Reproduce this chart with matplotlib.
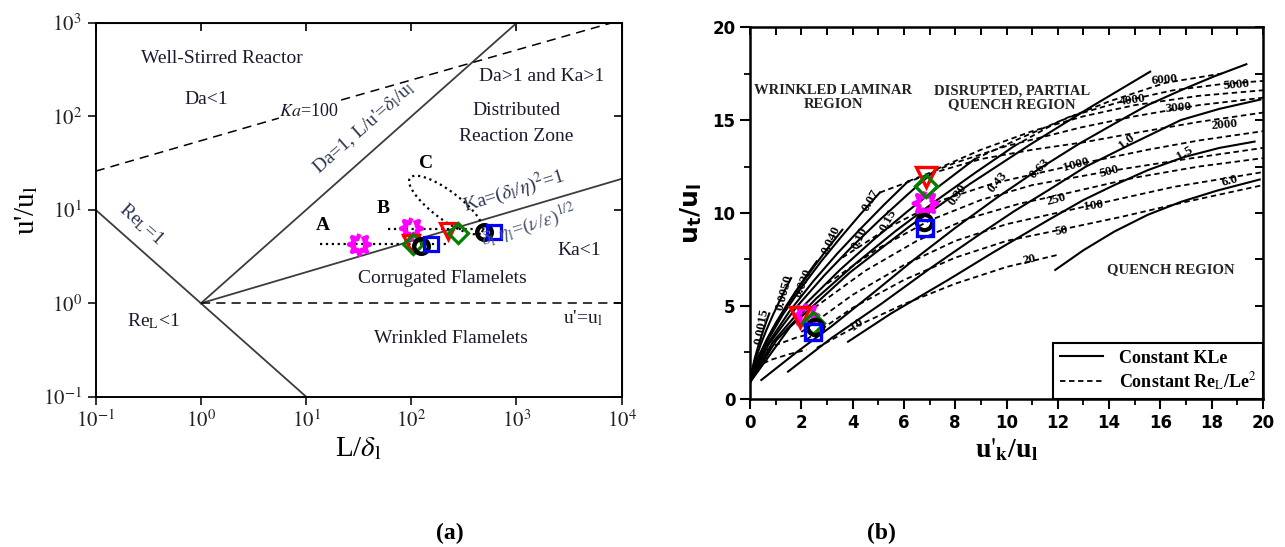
import numpy as np
import matplotlib.pyplot as plt
from matplotlib.ticker import FixedLocator, MultipleLocator
from matplotlib.lines import Line2D

plt.rcParams['font.family'] = ['Liberation Serif', 'DejaVu Serif']
plt.rcParams['mathtext.fontset'] = 'stix'

# ---------------- panel (a): regime diagram ----------------
reL_x, reL_y = [0.1, 10], [10, 0.1]            # Re_L = 1
da_x, da_y = [1, 1000], [1, 1000]              # Da = 1
ka1_x, ka1_y = [1, 1e4], [1, 21.5]             # Ka = 1
ka100a_x, ka100a_y = [0.1, 5.5], [26, 96]      # Ka = 100 (left of label)
ka100b_x, ka100b_y = [21.5, 7900], [150, 1000]  # Ka = 100 (right of label)
ul_x, ul_y = [1, 1e4], [1, 1]                  # u' = u_l

caseA_x, caseA_y = [13.6, 225], [4.3, 4.3]
caseB_x, caseB_y = [60, 600], [6.2, 6.2]

# operating points (L/delta_l, u'/u_l), cases A and B
a_star_x, a_star_y = [32, 100], [4.36, 6.46]
a_tri_x, a_tri_y = [100, 224], [4.4, 6.0]
a_dia_x, a_dia_y = [104, 277], [4.3, 5.7]
a_circ_x, a_circ_y = [123, 490], [4.15, 5.86]
a_sq_x, a_sq_y = [154, 610], [4.3, 5.86]

# ---------------- panel (b): Bradley chart ----------------
# solid: constant K*Le  (u'_k/u_l, u_t/u_l)
kle_x = [
    [0, 0.075, 0.1875, 0.3, 0.4125, 0.525, 0.6375, 0.75],
    [0, 0.16, 0.4, 0.64, 0.88, 1.12, 1.36, 1.6],
    [0, 0.26, 0.65, 1.04, 1.43, 1.82, 2.21, 2.6],
    [0, 0.36, 0.9, 1.44, 1.98, 2.52, 3.06, 3.6],
    [0, 0.506, 1.265, 2.024, 2.783, 3.542, 4.301, 5.06],
    [0, 0.616, 1.54, 2.464, 3.388, 4.312, 5.236, 6.16],
    [0, 0.726, 1.815, 2.904, 3.993, 5.082, 6.171, 7.26],
    [0, 0.876, 2.19, 3.504, 4.818, 6.132, 7.446, 8.76],
    [0, 1.03, 2.575, 4.12, 5.665, 7.21, 8.755, 10.3],
    [0, 1.56, 3.9, 6.24, 8.58, 10.92, 13.26, 15.6],
    [0.44, 1.8, 3.17, 4.8, 6.4, 8.0, 9.6, 11.3, 12.8, 14.2, 15.5, 16.8, 18.1, 19.35],
    [1.48, 3.2, 5.1, 7.0, 9.0, 10.3, 11.6, 13.1, 14.7, 16.8, 18.3, 19.9],
    [3.82, 5.5, 7.72, 9.5, 11.6, 13.0, 14.2, 15.5, 16.9, 18.3, 19.67],
    [11.9, 13.0, 14.2, 15.5, 16.8, 18.2, 19.87],
]
kle_y = [
    [0.9, 1.56, 2.21, 2.76, 3.26, 3.73, 4.17, 4.6],
    [0.9, 1.9, 2.88, 3.72, 4.48, 5.18, 5.86, 6.5],
    [0.9, 2.06, 3.2, 4.17, 5.05, 5.87, 6.65, 7.4],
    [0.9, 2.36, 3.8, 5.02, 6.14, 7.17, 8.16, 9.1],
    [0.9, 2.72, 4.51, 6.03, 7.42, 8.7, 9.93, 11.1],
    [0.9, 2.82, 4.72, 6.33, 7.8, 9.16, 10.46, 11.7],
    [0.9, 2.94, 4.95, 6.66, 8.22, 9.66, 11.03, 12.35],
    [0.9, 3.04, 5.15, 6.94, 8.57, 10.08, 11.52, 12.9],
    [0.9, 3.16, 5.4, 7.29, 9.02, 10.62, 12.14, 13.6],
    [0.9, 3.87, 6.81, 9.3, 11.57, 13.68, 15.68, 17.6],
    [1.02, 2.5, 3.9, 5.7, 7.5, 9.2, 10.8, 12.4, 13.7, 14.8, 15.8, 16.6, 17.35, 18.0],
    [1.47, 3.3, 5.1, 7.0, 8.9, 10.1, 11.2, 12.5, 13.6, 15.0, 15.6, 16.1],
    [3.08, 4.6, 6.4, 7.9, 9.6, 10.7, 11.5, 12.3, 13.0, 13.5, 13.84],
    [6.94, 8.0, 9.0, 9.9, 10.6, 11.2, 11.8],
]
kle_labels = ['0.0015', '0.0050', '0.020', '0.040', '0.07', '0.10', '0.15',
              '0.30', '0.43', '0.63', '1.0', '1.5', '6.0']
kle_lab_x = [0.45, 1.35, 2.07, 3.17, 4.7, 4.28, 5.38, 8.11, 9.67, 11.3, 14.7, 16.95, 18.7]
kle_lab_y = [3.9, 5.7, 6.22, 8.55, 10.66, 8.64, 9.62, 10.97, 11.68, 12.4, 13.84, 13.2, 11.74]
kle_lab_rot = [80, 75, 68, 65, 60, 65, 62, 55, 50, 45, 38, 30, 15]

# dashed: constant Re_L/Le^2
rel_x = [
    [2.6, 4.2, 6.0, 8.0, 10.0, 12.0],
    [2.2, 4.0, 6.0, 8.0, 10.0, 12.1, 14.5, 17.0, 20.0],
    [2.0, 4.0, 6.0, 8.0, 10.0, 13.4, 16.5, 20.0],
    [2.5, 4.5, 6.5, 8.5, 10.5, 12.0, 15.0, 17.5, 20.0],
    [3.0, 5.0, 7.0, 9.0, 11.0, 14.0, 17.0, 20.0],
    [3.6, 5.5, 7.5, 9.5, 12.7, 15.5, 17.5, 20.0],
    [5.06, 7.0, 9.0, 11.0, 13.0, 15.0, 17.5, 20.0],
    [6.16, 8.0, 10.0, 12.9, 15.0, 17.5, 20.0],
    [7.26, 9.0, 11.0, 13.0, 15.0, 17.5, 20.0],
    [8.76, 10.5, 12.5, 14.5, 16.5, 18.5, 20.0],
    [10.3, 12.0, 14.0, 16.2, 18.4],
    [0.2, 0.8, 1.5, 2.2],
    [0.35, 1.0, 1.8, 2.6],
]
rel_y = [
    [2.75, 3.95, 5.1, 6.2, 7.1, 7.75],
    [3.2, 4.9, 6.4, 7.6, 8.5, 9.1, 9.8, 10.6, 11.5],
    [3.6, 5.6, 7.2, 8.5, 9.4, 10.45, 11.4, 12.2],
    [4.9, 6.9, 8.5, 9.7, 10.5, 10.95, 11.9, 12.5, 12.95],
    [6.2, 8.1, 9.6, 10.7, 11.5, 12.25, 12.9, 13.5],
    [7.6, 9.3, 10.7, 11.6, 12.6, 13.4, 13.9, 14.4],
    [11.1, 12.1, 12.9, 13.4, 13.8, 14.3, 14.9, 15.4],
    [11.7, 12.7, 13.6, 14.6, 15.2, 15.8, 16.2],
    [12.35, 13.4, 14.4, 15.2, 15.8, 16.3, 16.6],
    [12.9, 14.0, 15.2, 16.0, 16.6, 16.95, 17.1],
    [13.6, 14.9, 16.0, 17.0, 17.5],
    [1.7, 2.1, 2.4, 2.65],
    [2.4, 2.9, 3.3, 3.6],
]
rel_labels = ['20', '50', '100', '250', '500', '1000', '2000', '3000', '4000', '5000', '6000', '10']
rel_lab_x = [10.9, 12.14, 13.37, 11.94, 14.02, 12.72, 18.5, 16.7, 14.9, 18.96, 16.17, 4.17]
rel_lab_y = [7.48, 9.05, 10.4, 10.7, 12.22, 12.58, 14.72, 15.66, 16.04, 16.88, 17.15, 4.0]
rel_lab_rot = [12, 10, 8, 15, 15, 15, 5, 5, 8, 5, 5, 35]

b_star_x, b_star_y = [2.2, 6.81], [4.52, 10.52]
b_tri_x, b_tri_y = [1.94, 6.87], [4.43, 11.95]
b_dia_x, b_dia_y = [2.46, 6.87], [4.07, 11.45]
b_circ_x, b_circ_y = [2.52, 6.78], [3.89, 9.53]
b_sq_x, b_sq_y = [2.46, 6.81], [3.62, 9.18]

# spiky 8-point star marker
ang8 = np.arange(16) * np.pi / 8 + np.pi / 2
rad8 = np.where(np.arange(16) % 2 == 0, 1.0, 0.55)
star_mark = list(zip(rad8 * np.cos(ang8), rad8 * np.sin(ang8)))

fig = plt.figure(figsize=(12.85, 5.47), dpi=100)
axa = fig.add_axes([0.0745, 0.2748, 0.4093, 0.683])
axb = fig.add_axes([0.5837, 0.2706, 0.3992, 0.680])

# ---- (a)
line_c = '#3c3c3c'
axa.set_xscale('log'); axa.set_yscale('log')
axa.set_xlim(0.1, 1e4); axa.set_ylim(0.1, 1000)
axa.plot(reL_x, reL_y, color=line_c, lw=1.3)
axa.plot(da_x, da_y, color=line_c, lw=1.3)
axa.plot(ka1_x, ka1_y, color=line_c, lw=1.3)
axa.plot(ka100a_x, ka100a_y, 'k--', lw=1.1, dashes=(6, 4))
axa.plot(ka100b_x, ka100b_y, 'k--', lw=1.1, dashes=(6, 4))
axa.plot(ul_x, ul_y, 'k--', lw=1.1, dashes=(6, 4))
axa.plot(caseA_x, caseA_y, 'k:', lw=1.6)
axa.plot(caseB_x, caseB_y, 'k:', lw=1.6)

# C: dotted loop, built in pixel space of the panel
t = np.linspace(0, 2 * np.pi, 200)
cx, cy, sa, sb, ang = 446, 205, 45, 14, np.deg2rad(-37)
ex = cx + sa * np.cos(t) * np.cos(ang) - sb * np.sin(t) * np.sin(ang)
ey = cy - (sa * np.cos(t) * np.sin(ang) + sb * np.sin(t) * np.cos(ang))
axa.plot((ex - 95.7) / 526.0, (396.7 - ey) / 373.7, 'k:', lw=1.6,
         transform=axa.transAxes)

mk = dict(ls='none', mfc='none')
axa.plot(a_star_x, a_star_y, marker=star_mark, ms=15, mec='#ff00ff', mew=3.2, **mk)
axa.plot(a_tri_x, a_tri_y, marker='v', ms=12, mec='red', mew=2.3, **mk)
axa.plot(a_dia_x, a_dia_y, marker='D', ms=10, mec='green', mew=2.3, **mk)
axa.plot(a_circ_x, a_circ_y, marker='o', ms=10.5, mec='black', mew=3.2, **mk)
axa.plot(a_sq_x, a_sq_y, marker='s', ms=10, mec='blue', mew=2.3, **mk)

tc = '#1a1a2e'
fs = 14
axa.text(10**0.2, 10**2.62, 'Well-Stirred Reactor', fontsize=fs, ha='center', va='center', color=tc)
axa.text(10**0.05, 10**2.18, 'Da<1', fontsize=fs, ha='center', va='center', color=tc)
axa.text(10**1.02, 10**2.05, r'$\mathit{Ka}$=100', fontsize=fs - 1, ha='center', va='center', color=tc)
axa.text(10**1.55, 10**1.88, r"Da=1, L/u'=$\delta_{\rm l}$/u$_{\rm l}$", fontsize=fs,
         ha='center', va='center', rotation=41.5, color='#2a3550')
axa.text(10**3.24, 10**2.43, 'Da>1 and Ka>1', fontsize=fs, ha='center', va='center', color=tc)
axa.text(10**3.0, 10**2.06, 'Distributed', fontsize=fs, ha='center', va='center', color=tc)
axa.text(10**3.0, 10**1.79, 'Reaction Zone', fontsize=fs, ha='center', va='center', color=tc)
axa.text(10**2.14, 10**1.495, 'C', fontsize=fs, fontweight='bold', ha='center', va='center')
axa.text(10**1.16, 10**0.83, 'A', fontsize=fs, fontweight='bold', ha='center', va='center')
axa.text(10**1.73, 10**1.02, 'B', fontsize=fs, fontweight='bold', ha='center', va='center')
axa.text(10**2.97, 10**1.21, r'Ka=($\delta_{\rm l}$/$\eta$)$^2$=1', fontsize=fs,
         ha='center', va='center', rotation=17, color='#2a3550')
axa.text(10**3.12, 10**0.83, r'$\delta_{\rm l}$ $\eta_{\rm l}$=($\nu$/$\varepsilon$)$^{1/2}$', fontsize=fs,
         ha='center', va='center', rotation=17, color='#4a5570')
axa.text(10**3.6, 10**0.56, 'Ka<1', fontsize=fs, ha='center', va='center', color=tc)
axa.text(10**2.3, 10**0.27, 'Corrugated Flamelets', fontsize=fs, ha='center', va='center', color=tc)
axa.text(10**3.63, 10**-0.16, r"u'=u$_{\rm l}$", fontsize=fs, ha='center', va='center', color=tc)
axa.text(10**2.38, 10**-0.38, 'Wrinkled Flamelets', fontsize=fs, ha='center', va='center', color=tc)
axa.text(10**-0.57, 10**0.85, r'Re$_{\rm L}$=1', fontsize=fs, ha='center', va='center',
         rotation=-41.5, color='#2a3550')
axa.text(10**-0.45, 10**-0.19, r'Re$_{\rm L}$<1', fontsize=fs, ha='center', va='center', color=tc)

dec = [0.1, 1, 10, 100, 1000, 10000]
axa.xaxis.set_major_locator(FixedLocator(dec))
axa.yaxis.set_major_locator(FixedLocator(dec[:5]))
axa.xaxis.set_minor_locator(FixedLocator([]))
axa.yaxis.set_minor_locator(FixedLocator([]))
axa.set_xticklabels([r'$10^{-1}$', r'$10^{0}$', r'$10^{1}$', r'$10^{2}$', r'$10^{3}$', r'$10^{4}$'])
axa.set_yticklabels([r'$10^{-1}$', r'$10^{0}$', r'$10^{1}$', r'$10^{2}$', r'$10^{3}$'])
axa.tick_params(direction='out', length=6, width=1.3, labelsize=15, pad=4, colors='#222')
for s in axa.spines.values():
    s.set_linewidth(1.4)
topa = axa.secondary_xaxis('top')
topa.xaxis.set_major_locator(FixedLocator(dec))
topa.xaxis.set_minor_locator(FixedLocator([]))
topa.tick_params(direction='in', length=6, width=1.2, labeltop=False)
righta = axa.secondary_yaxis('right')
righta.yaxis.set_major_locator(FixedLocator(dec[:5]))
righta.yaxis.set_minor_locator(FixedLocator([]))
righta.tick_params(direction='in', length=6, width=1.2, labelright=False)
axa.set_xlabel(r'L/$\delta_{\rm l}$', fontsize=21, labelpad=2)
axa.set_ylabel(r"u'/u$_{\rm l}$", fontsize=21, labelpad=2)

# ---- (b)
axb.set_xlim(0, 20); axb.set_ylim(0, 20)
for xs, ys in zip(kle_x, kle_y):
    axb.plot(xs, ys, 'k-', lw=1.5)
for xs, ys in zip(rel_x, rel_y):
    axb.plot(xs, ys, 'k--', lw=1.3, dashes=(3, 2))
lab_kw = dict(fontsize=9.5, fontweight='bold', ha='center', va='center')
for lx, ly, r, s in zip(kle_lab_x, kle_lab_y, kle_lab_rot, kle_labels):
    axb.text(lx, ly, s, rotation=r, **lab_kw)
for lx, ly, r, s in zip(rel_lab_x, rel_lab_y, rel_lab_rot, rel_labels):
    axb.text(lx, ly, s, rotation=r, **lab_kw)

axb.plot(b_star_x, b_star_y, marker=star_mark, ms=17, mec='#ff00ff', mew=3.2, **mk)
axb.plot(b_tri_x, b_tri_y, marker='v', ms=15, mec='red', mew=2.4, **mk)
axb.plot(b_dia_x, b_dia_y, marker='D', ms=11, mec='green', mew=2.4, **mk)
axb.plot(b_circ_x, b_circ_y, marker='o', ms=11, mec='black', mew=3, **mk)
axb.plot(b_sq_x, b_sq_y, marker='s', ms=11, mec='blue', mew=2.4, **mk)

reg_kw = dict(fontsize=10.5, fontweight='bold', ha='center', va='center', color='#222')
axb.text(3.25, 16.2, 'WRINKLED LAMINAR\nREGION', linespacing=1.1, **reg_kw)
axb.text(10.2, 16.2, 'DISRUPTED, PARTIAL\nQUENCH REGION', linespacing=1.1, **reg_kw)
axb.text(16.4, 6.95, 'QUENCH REGION', **reg_kw)

h = [Line2D([], [], color='k', lw=1.5), Line2D([], [], color='k', lw=1.3, ls='--', dashes=(3, 2))]
leg = axb.legend(h, ['Constant KLe', r'Constant Re$_{\rm L}$/Le$^{2}$'], loc='lower right',
                 borderaxespad=0, fancybox=False, edgecolor='black', framealpha=1,
                 prop={'family': 'Liberation Serif', 'weight': 'bold', 'size': 13},
                 handlelength=2.4, handletextpad=0.9, borderpad=0.35, labelspacing=0.2)
leg.get_frame().set_linewidth(1.5)

axb.xaxis.set_major_locator(MultipleLocator(2))
axb.xaxis.set_minor_locator(MultipleLocator(1))
axb.yaxis.set_major_locator(MultipleLocator(5))
axb.yaxis.set_minor_locator(MultipleLocator(2.5))
axb.tick_params(which='major', direction='out', length=7, width=1.5)
axb.tick_params(which='minor', direction='out', length=4, width=1.3)
for lab in axb.get_xticklabels() + axb.get_yticklabels():
    lab.set_fontfamily('DejaVu Sans')
    lab.set_fontweight('bold')
    lab.set_fontsize(12)
for s in axb.spines.values():
    s.set_linewidth(1.8)
topb = axb.secondary_xaxis('top')
topb.xaxis.set_major_locator(MultipleLocator(2))
topb.xaxis.set_minor_locator(MultipleLocator(1))
topb.tick_params(which='both', direction='in', length=6, width=1.4, labeltop=False)
rightb = axb.secondary_yaxis('right')
rightb.yaxis.set_major_locator(MultipleLocator(5))
rightb.yaxis.set_minor_locator(MultipleLocator(2.5))
rightb.tick_params(which='both', direction='in', length=6, width=1.4, labelright=False)
axb.set_xlabel(r"u$'_{\mathbf{k}}$/u$_{\mathbf{l}}$", fontsize=20, fontweight='bold', labelpad=4)
axb.set_ylabel(r'u$_\mathregular{t}$/u$_\mathregular{l}$', fontsize=18, fontweight='bold',
               fontfamily='DejaVu Sans', labelpad=6)

fig.text(0.350, 0.015, '(a)', fontsize=17, fontweight='bold', ha='center')
fig.text(0.686, 0.015, '(b)', fontsize=17, fontweight='bold', ha='center')

fig.savefig('out.png', dpi=100)
